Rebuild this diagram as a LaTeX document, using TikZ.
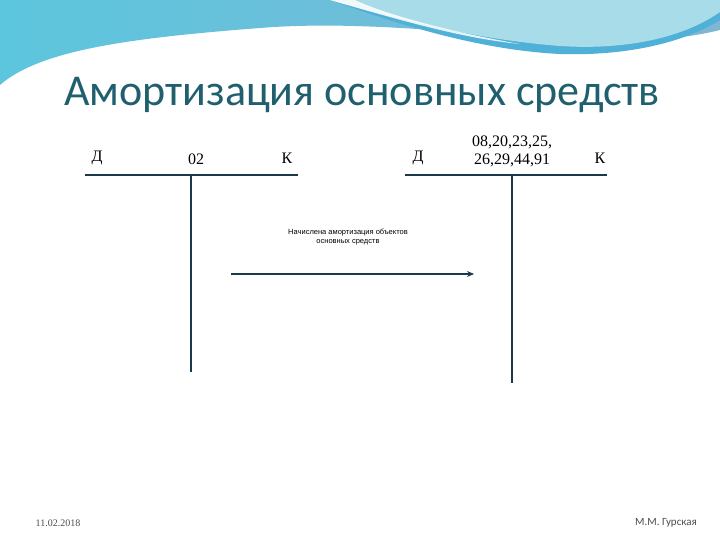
\documentclass[tikz,border=0pt]{standalone}
\usepackage{fontspec}
\setmainfont{Liberation Serif}
\newfontfamily\titlefont{Carlito}
\newfontfamily\smallfont{Liberation Sans}
\usetikzlibrary{arrows.meta}
\definecolor{teal1}{HTML}{1F5F6E}
\definecolor{lineC}{HTML}{1A3A4A}
\definecolor{waveA}{HTML}{7FB6D4}
\definecolor{waveB}{HTML}{5CC6DE}
\definecolor{wave2}{HTML}{A8DCE8}
\definecolor{wave3}{HTML}{4FB0D8}
\tikzset{acc/.style={line width=1.2pt, draw=lineC}, accthick/.style={line width=2.2pt, draw=lineC},
lbl/.style={font=\fontsize{16}{18}\selectfont, inner sep=0pt}}
\begin{document}
\begin{tikzpicture}[x=1pt,y=-1pt]
\useasboundingbox (0,0) rectangle (720,540);
\fill[white] (0,0) rectangle (720,540);
\shade[left color=waveB, right color=waveA] (0,0)--(720,0)--(720,30) .. controls (600,60) and (420,15) .. (260,28) .. controls (130,38) and (40,50) .. (0,85) -- cycle;
\fill[wave3] (330,0) .. controls (400,25) and (480,50) .. (560,54) .. controls (620,56) and (680,45) .. (720,20) -- (720,0) -- cycle;
\fill[wave2] (330,0) .. controls (400,20) and (480,40) .. (560,46) .. controls (620,50) and (680,40) .. (720,12) -- (720,0) -- cycle;
\fill[white,opacity=0.85] (330,0) .. controls (400,20) and (460,38) .. (520,44) .. controls (440,30) and (380,12) .. (355,0) -- cycle;
\node[text=teal1, font=\titlefont\fontsize{44}{48}\selectfont] (title) at (362,95) {Амортизация основных средств};
% account 02
\coordinate (a1l) at (85,175); \coordinate (a1m) at (232,175); \coordinate (a1r) at (298,175);
\coordinate (a1t) at (191,175); \coordinate (a1b) at (191,372);
\draw[acc] (a1l) -- (a1m); \draw[accthick] (a1m) -- (a1r); \draw[acc] (a1t) -- (a1b);
\node[lbl] (d1) at (97,158) {Д};
\node[lbl] (n1) at (196,159) {02};
\node[lbl] (k1) at (287,158) {К};
% account 2
\coordinate (a2l) at (405,175); \coordinate (a2m) at (545,175); \coordinate (a2r) at (607,175);
\coordinate (a2t) at (512,175); \coordinate (a2b) at (512,383);
\draw[acc] (a2l) -- (a2m); \draw[accthick] (a2m) -- (a2r); \draw[acc] (a2t) -- (a2b);
\node[lbl] (d2) at (418,158) {Д};
\node[lbl,align=center] (n2) at (512,151) {08,20,23,25,\\26,29,44,91};
\node[lbl] (k2) at (600,158) {К};
% arrow
\coordinate (p1) at (231,274); \coordinate (p2) at (474,274);
\draw[line width=1.3pt, draw=lineC, -{Stealth[length=7pt,width=6pt]}] (p1) -- (p2);
\node[font=\smallfont\fontsize{7.5}{9}\selectfont, align=center] (txt) at (348,237) {Начислена амортизация объектов\\основных средств};
\node[font=\fontsize{10}{11}\selectfont, text=black!70] (date) at (58,523) {11.02.2018};
\node[font=\titlefont\fontsize{11}{12}\selectfont, text=black!70] (auth) at (666,523) {М.М. Гурская};
\end{tikzpicture}
\end{document}
